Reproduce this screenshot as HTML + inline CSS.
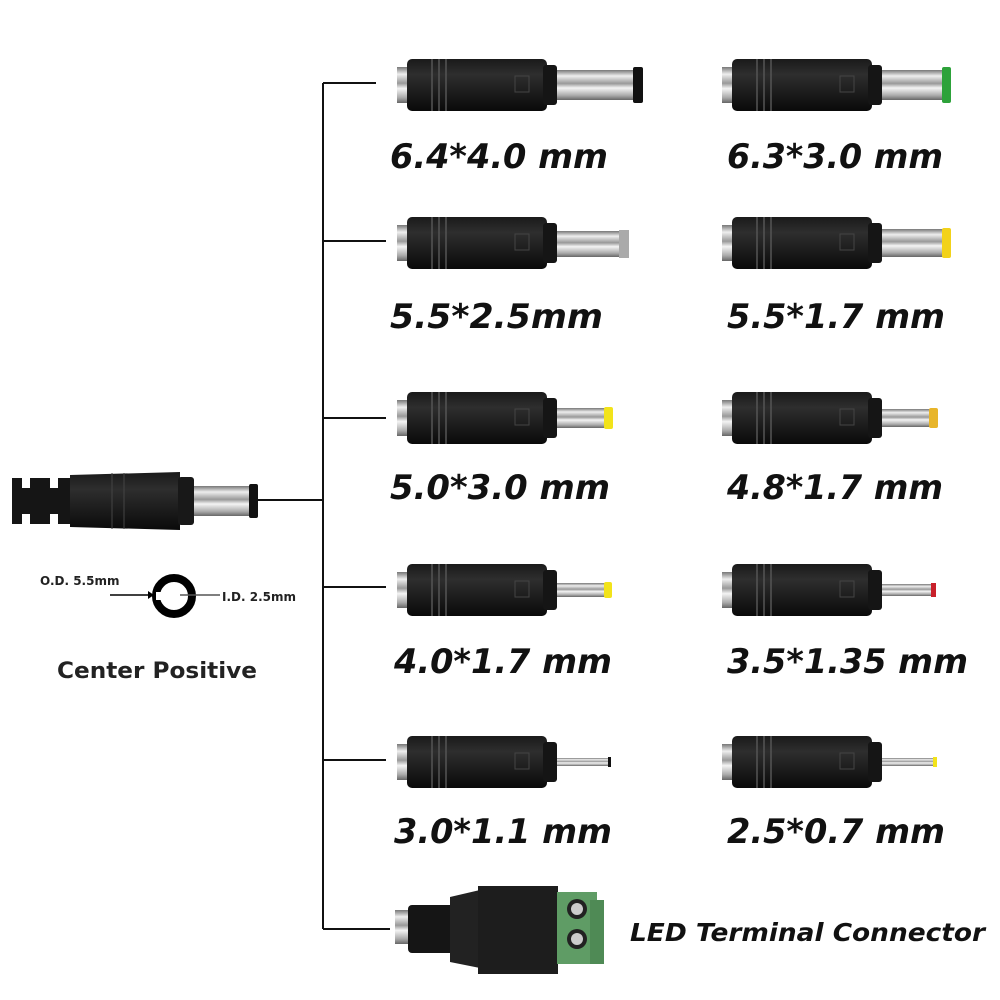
<!DOCTYPE html>
<html><head><meta charset="utf-8"><style>
body{margin:0;background:#fff}
svg{display:block}
.l{font-family:"DejaVu Sans",sans-serif;font-weight:bold;font-style:italic;font-size:34px;fill:#111}
</style></head><body>
<svg width="1000" height="1000" viewBox="0 0 1000 1000" xmlns="http://www.w3.org/2000/svg">
<defs>
<linearGradient id="sil" x1="0" y1="0" x2="0" y2="1">
<stop offset="0" stop-color="#777"/><stop offset="0.2" stop-color="#eee"/><stop offset="0.45" stop-color="#999"/><stop offset="0.6" stop-color="#f4f4f4"/><stop offset="0.85" stop-color="#aaa"/><stop offset="1" stop-color="#666"/>
</linearGradient>
<linearGradient id="blk" x1="0" y1="0" x2="0" y2="1">
<stop offset="0" stop-color="#1a1a1a"/><stop offset="0.3" stop-color="#2e2e2e"/><stop offset="1" stop-color="#0a0a0a"/>
</linearGradient>
<g id="body">
<rect x="0" y="-18" width="16" height="36" fill="url(#sil)"/>
<rect x="10" y="-26" width="140" height="52" rx="5" fill="url(#blk)"/>
<line x1="35" y1="-26" x2="35" y2="26" stroke="#555" stroke-width="1.5"/>
<line x1="42" y1="-26" x2="42" y2="26" stroke="#555" stroke-width="1.5"/>
<line x1="49" y1="-26" x2="49" y2="26" stroke="#555" stroke-width="1.5"/>
<rect x="118" y="-9" width="14" height="16" fill="none" stroke="#444" stroke-width="1"/>
<rect x="146" y="-20" width="14" height="40" rx="3" fill="#151515"/>
</g>
</defs>
<g stroke="#111" stroke-width="2" fill="none">
<line x1="323" y1="83" x2="323" y2="929"/>
<line x1="323" y1="83" x2="376" y2="83"/>
<line x1="323" y1="241" x2="386" y2="241"/>
<line x1="323" y1="418" x2="386" y2="418"/>
<line x1="323" y1="587" x2="386" y2="587"/>
<line x1="323" y1="760" x2="386" y2="760"/>
<line x1="323" y1="929" x2="390" y2="929"/>
<line x1="258" y1="500" x2="323" y2="500"/>
</g>
<g>
<rect x="12" y="478" width="70" height="46" fill="#151515"/>
<rect x="22" y="478" width="8" height="10" fill="#fff"/><rect x="22" y="514" width="8" height="10" fill="#fff"/>
<rect x="50" y="478" width="8" height="10" fill="#fff"/><rect x="50" y="514" width="8" height="10" fill="#fff"/>
<path d="M70 475 L180 472 L180 530 L70 527 Z" fill="url(#blk)"/>
<line x1="112" y1="473" x2="112" y2="529" stroke="#444"/><line x1="124" y1="473" x2="124" y2="529" stroke="#444"/>
<rect x="178" y="477" width="16" height="48" rx="3" fill="#181818"/>
<rect x="194" y="486" width="56" height="30" fill="url(#sil)"/>
<rect x="249" y="484" width="9" height="34" rx="2" fill="#111"/>
</g>
<circle cx="174" cy="596" r="18" fill="none" stroke="#000" stroke-width="8"/>
<rect x="156" y="592" width="14" height="8" fill="#fff"/>
<g font-family="DejaVu Sans,sans-serif" font-weight="bold" font-size="12" fill="#222">
<text x="40" y="585">O.D. 5.5mm</text>
<text x="222" y="601">I.D. 2.5mm</text>
</g>
<line x1="110" y1="595" x2="148" y2="595" stroke="#000" stroke-width="1.5"/><path d="M148 591 L154 595 L148 599Z" fill="#000"/>
<line x1="180" y1="595" x2="220" y2="595" stroke="#555" stroke-width="1.5"/>
<text x="57" y="678" font-family="DejaVu Sans,sans-serif" font-weight="bold" font-size="22" fill="#222" textLength="200" lengthAdjust="spacingAndGlyphs">Center Positive</text>

<use href="#body" x="397" y="85"/>
<rect x="557" y="70" width="78" height="30" fill="url(#sil)"/><rect x="633" y="67" width="10" height="36" rx="2" fill="#111"/>
<use href="#body" x="397" y="243"/>
<rect x="557" y="231" width="64" height="26" fill="url(#sil)"/><rect x="619" y="230" width="10" height="28" fill="#aaa"/>
<use href="#body" x="397" y="418"/>
<rect x="557" y="408" width="48" height="20" fill="url(#sil)"/><rect x="604" y="407" width="9" height="22" rx="2" fill="#f2e31a"/>
<use href="#body" x="397" y="590"/>
<rect x="557" y="583" width="48" height="14" fill="url(#sil)"/><rect x="604" y="582" width="8" height="16" rx="2" fill="#f2e31a"/>
<use href="#body" x="397" y="762"/>
<rect x="557" y="758" width="52" height="8" fill="url(#sil)"/><rect x="608" y="757" width="3" height="10" fill="#111"/>

<use href="#body" x="722" y="85"/>
<rect x="882" y="70" width="62" height="30" fill="url(#sil)"/><rect x="942" y="67" width="9" height="36" rx="2" fill="#2da23a"/>
<use href="#body" x="722" y="243"/>
<rect x="882" y="229" width="62" height="28" fill="url(#sil)"/><rect x="942" y="228" width="9" height="30" rx="2" fill="#f2d21a"/>
<use href="#body" x="722" y="418"/>
<rect x="882" y="409" width="48" height="18" fill="url(#sil)"/><rect x="929" y="408" width="9" height="20" rx="2" fill="#e8b52a"/>
<use href="#body" x="722" y="590"/>
<rect x="882" y="584" width="50" height="12" fill="url(#sil)"/><rect x="931" y="583" width="5" height="14" fill="#c8202a"/>
<use href="#body" x="722" y="762"/>
<rect x="882" y="758" width="52" height="8" fill="url(#sil)"/><rect x="933" y="757" width="4" height="10" fill="#f2e31a"/>

<rect x="395" y="910" width="18" height="34" fill="url(#sil)"/>
<rect x="408" y="905" width="50" height="48" rx="4" fill="#151515"/>
<path d="M450 897 L480 890 L480 968 L450 962 Z" fill="#222"/>
<rect x="478" y="886" width="80" height="88" fill="#1d1d1d"/>
<rect x="557" y="892" width="40" height="72" fill="#5f9c65"/>
<rect x="590" y="900" width="14" height="64" fill="#4f8a55"/>
<circle cx="577" cy="909" r="10" fill="#222"/><circle cx="577" cy="909" r="6" fill="#ccc"/>
<circle cx="577" cy="939" r="10" fill="#222"/><circle cx="577" cy="939" r="6" fill="#ccc"/>
<text x="630" y="941" font-family="DejaVu Sans,sans-serif" font-weight="bold" font-style="italic" font-size="25" fill="#111" textLength="355" lengthAdjust="spacingAndGlyphs">LED Terminal Connector</text>

<text class="l" x="390" y="168" textLength="218" lengthAdjust="spacingAndGlyphs">6.4*4.0 mm</text>
<text class="l" x="727" y="168" textLength="216" lengthAdjust="spacingAndGlyphs">6.3*3.0 mm</text>
<text class="l" x="390" y="328" textLength="213" lengthAdjust="spacingAndGlyphs">5.5*2.5mm</text>
<text class="l" x="727" y="328" textLength="218" lengthAdjust="spacingAndGlyphs">5.5*1.7 mm</text>
<text class="l" x="390" y="499" textLength="220" lengthAdjust="spacingAndGlyphs">5.0*3.0 mm</text>
<text class="l" x="727" y="499" textLength="216" lengthAdjust="spacingAndGlyphs">4.8*1.7 mm</text>
<text class="l" x="394" y="673" textLength="218" lengthAdjust="spacingAndGlyphs">4.0*1.7 mm</text>
<text class="l" x="727" y="673" textLength="241" lengthAdjust="spacingAndGlyphs">3.5*1.35 mm</text>
<text class="l" x="394" y="843" textLength="218" lengthAdjust="spacingAndGlyphs">3.0*1.1 mm</text>
<text class="l" x="727" y="843" textLength="218" lengthAdjust="spacingAndGlyphs">2.5*0.7 mm</text>
</svg>
</body></html>
